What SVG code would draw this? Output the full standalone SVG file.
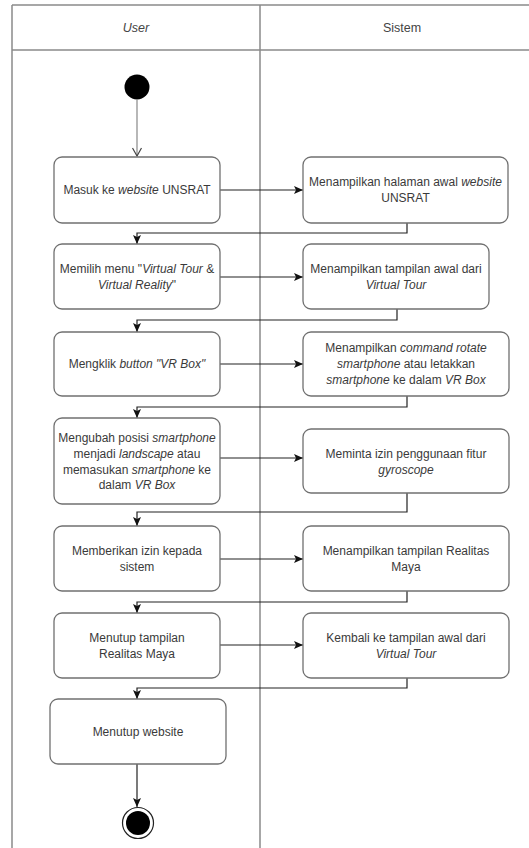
<svg xmlns="http://www.w3.org/2000/svg" width="529" height="848" viewBox="0 0 529 848">
<style>
.frame{fill:none;stroke:#8a8a8a;stroke-width:1.5}
.box{fill:#fff;stroke:#707070;stroke-width:1.3}
.t{font-family:"Liberation Sans",Arial,sans-serif;font-size:12px;fill:#3a3a3a;text-anchor:middle}
.h{font-family:"Liberation Sans",Arial,sans-serif;font-size:12.5px;fill:#444;text-anchor:middle}
.i{font-style:italic}
.c{fill:none;stroke:#222;stroke-width:1.2}
</style>
<defs>
<marker id="arr" markerWidth="10" markerHeight="8" refX="9" refY="4" orient="auto" markerUnits="userSpaceOnUse">
<path d="M0,0 L9,4 L0,8 L2,4 z" fill="#111"/>
</marker>
<marker id="open" markerWidth="12" markerHeight="10" refX="10" refY="5" orient="auto" markerUnits="userSpaceOnUse">
<path d="M2,0.5 L10,5 L2,9.5" fill="none" stroke="#444" stroke-width="1.2"/>
</marker>
</defs>
<g id="swimlanes">
<line class="frame" x1="12" y1="5" x2="529" y2="5"/>
<line class="frame" x1="12" y1="50" x2="529" y2="50"/>
<line class="frame" x1="12" y1="5" x2="12" y2="848"/>
<line class="frame" x1="260" y1="5" x2="260" y2="848"/>
<text class="h i" x="136" y="32">User</text>
<text class="h" x="402" y="32">Sistem</text>
</g>
<g id="connectors">
<line x1="137" y1="100" x2="137" y2="156" stroke="#888" stroke-width="1.2" marker-end="url(#open)"/>
<line class="c" x1="220" y1="190" x2="303" y2="190" marker-end="url(#arr)"/>
<polyline class="c" points="407,223 407,233 137,233 137,244" marker-end="url(#arr)"/>
<line class="c" x1="220" y1="277" x2="303" y2="277" marker-end="url(#arr)"/>
<polyline class="c" points="397,309 397,320 137,320 137,332" marker-end="url(#arr)"/>
<line class="c" x1="220" y1="364" x2="303" y2="364" marker-end="url(#arr)"/>
<polyline class="c" points="407,396 407,407 137,407 137,418" marker-end="url(#arr)"/>
<line class="c" x1="220" y1="458" x2="303" y2="458" marker-end="url(#arr)"/>
<polyline class="c" points="407,493 407,512 137,512 137,526" marker-end="url(#arr)"/>
<line class="c" x1="220" y1="559" x2="303" y2="559" marker-end="url(#arr)"/>
<polyline class="c" points="407,591 407,602 137,602 137,613" marker-end="url(#arr)"/>
<line class="c" x1="220" y1="645" x2="303" y2="645" marker-end="url(#arr)"/>
<polyline class="c" points="407,678 407,688 137,688 137,699" marker-end="url(#arr)"/>
<line class="c" x1="137" y1="764" x2="137" y2="807" marker-end="url(#arr)"/>
</g>
<g id="start">
<circle cx="137" cy="87" r="12.5" fill="#000"/>
</g>
<g id="u1">
<rect class="box" x="54" y="157" width="166" height="66" rx="8"/>
<text class="t" x="137" y="194">Masuk ke <tspan class="i">website</tspan> UNSRAT</text>
</g>
<g id="s1">
<rect class="box" x="303" y="157" width="205" height="66" rx="8"/>
<text class="t" x="405.5" y="186">Menampilkan halaman awal <tspan class="i">website</tspan></text>
<text class="t" x="405.5" y="202">UNSRAT</text>
</g>
<g id="u2">
<rect class="box" x="54" y="244" width="166" height="65" rx="8"/>
<text class="t" x="137" y="273">Memilih menu "<tspan class="i">Virtual Tour</tspan> &amp;</text>
<text class="t" x="137" y="289"><tspan class="i">Virtual Reality</tspan>"</text>
</g>
<g id="s2">
<rect class="box" x="303" y="244" width="186" height="65" rx="8"/>
<text class="t" x="396" y="273">Menampilkan tampilan awal dari</text>
<text class="t i" x="396" y="289">Virtual Tour</text>
</g>
<g id="u3">
<rect class="box" x="54" y="332" width="166" height="64" rx="8"/>
<text class="t" x="137" y="368">Mengklik <tspan class="i">button "VR Box"</tspan></text>
</g>
<g id="s3">
<rect class="box" x="303" y="332" width="206" height="64" rx="8"/>
<text class="t" x="406" y="352">Menampilkan <tspan class="i">command rotate</tspan></text>
<text class="t" x="406" y="368"><tspan class="i">smartphone</tspan> atau letakkan</text>
<text class="t" x="406" y="384"><tspan class="i">smartphone</tspan> ke dalam <tspan class="i">VR Box</tspan></text>
</g>
<g id="u4">
<rect class="box" x="54" y="418" width="166" height="86" rx="8"/>
<text class="t" x="137" y="442">Mengubah posisi <tspan class="i">smartphone</tspan></text>
<text class="t" x="137" y="458">menjadi <tspan class="i">landscape</tspan> atau</text>
<text class="t" x="137" y="474">memasukan <tspan class="i">smartphone</tspan> ke</text>
<text class="t" x="137" y="489">dalam <tspan class="i">VR Box</tspan></text>
</g>
<g id="s4">
<rect class="box" x="303" y="429" width="206" height="64" rx="8"/>
<text class="t" x="406" y="458">Meminta izin penggunaan fitur</text>
<text class="t i" x="406" y="474">gyroscope</text>
</g>
<g id="u5">
<rect class="box" x="54" y="526" width="166" height="65" rx="8"/>
<text class="t" x="137" y="555">Memberikan izin kepada</text>
<text class="t" x="137" y="571">sistem</text>
</g>
<g id="s5">
<rect class="box" x="303" y="526" width="206" height="65" rx="8"/>
<text class="t" x="406" y="555">Menampilkan tampilan Realitas</text>
<text class="t" x="406" y="571">Maya</text>
</g>
<g id="u6">
<rect class="box" x="54" y="613" width="166" height="65" rx="8"/>
<text class="t" x="137" y="642">Menutup tampilan</text>
<text class="t" x="137" y="658">Realitas Maya</text>
</g>
<g id="s6">
<rect class="box" x="303" y="613" width="206" height="65" rx="8"/>
<text class="t" x="406" y="642">Kembali ke tampilan awal dari</text>
<text class="t i" x="406" y="658">Virtual Tour</text>
</g>
<g id="u7">
<rect class="box" x="50" y="699" width="176" height="65" rx="8"/>
<text class="t" x="138" y="736">Menutup website</text>
</g>
<g id="end">
<circle cx="138" cy="823" r="15.5" fill="#fff" stroke="#222" stroke-width="1.2"/>
<circle cx="138" cy="823" r="12" fill="#000"/>
</g>
</svg>
